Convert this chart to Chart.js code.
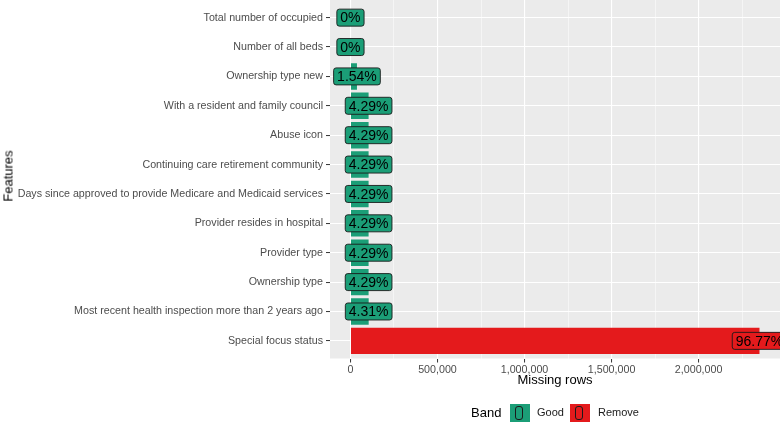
<!DOCTYPE html>
<html>
<head>
<meta charset="utf-8">
<script src="https://cdn.jsdelivr.net/npm/chart.js@4"></script>
<style>
  html, body { margin:0; padding:0; background:#ffffff; }
  #wrap { position:relative; width:780px; height:423px; overflow:hidden; font-family:"Liberation Sans", Arial, sans-serif; }
  #c { position:absolute; left:0; top:0; }
  .t { position:absolute; white-space:nowrap; color:#000; }
  .key { position:absolute; width:20px; height:18px; box-sizing:border-box; }
  .key div { position:absolute; left:5px; top:2px; width:8px; height:14px; box-sizing:border-box; border:1px solid #1a1a1a; border-radius:3px; }
</style>
</head>
<body>
<div id="wrap">
  <canvas id="c" width="780" height="423"></canvas>
  <div class="t" style="left:555px; top:372px; font-size:13px; transform:translateX(-50%);">Missing rows</div>
  <div class="t" style="left:8px; top:176px; font-size:13px; transform:translate(-50%,-50%) rotate(-90deg);">Features</div>
  <div class="t" style="left:471px; top:405px; font-size:13px;">Band</div>
  <div class="key" style="left:510px; top:404px; background:#1b9e77;"><div></div></div>
  <div class="t" style="left:537px; top:406px; font-size:11px; color:#1a1a1a;">Good</div>
  <div class="key" style="left:570px; top:404px; background:#e41a1c;"><div></div></div>
  <div class="t" style="left:598px; top:406px; font-size:11px; color:#1a1a1a;">Remove</div>
</div>
<script>
const categories = [
  "Total number of occupied",
  "Number of all beds",
  "Ownership type new",
  "With a resident and family council",
  "Abuse icon",
  "Continuing care retirement community",
  "Days since approved to provide Medicare and Medicaid services",
  "Provider resides in hospital",
  "Provider type",
  "Ownership type",
  "Most recent health inspection more than 2 years ago",
  "Special focus status"
];
const missingRows = [0, 0, 37400, 104200, 104200, 104200, 104200, 104200, 104200, 104200, 104700, 2349700];
const pctLabels = ["0%", "0%", "1.54%", "4.29%", "4.29%", "4.29%", "4.29%", "4.29%", "4.29%", "4.29%", "4.31%", "96.77%"];
const bands = ["Good", "Good", "Good", "Good", "Good", "Good", "Good", "Good", "Good", "Good", "Good", "Remove"];
const xTicks = [0, 250000, 500000, 750000, 1000000, 1250000, 1500000, 1750000, 2000000, 2250000];
const majorStep = 500000;

const bandColors = { "Good": "#1b9e77", "Remove": "#e41a1c" };
const barColors = bands.map(b => bandColors[b]);

const panelBg = {
  id: 'panelBg',
  beforeDraw(chart) {
    const a = chart.chartArea, ctx = chart.ctx;
    ctx.save();
    ctx.fillStyle = '#ebebeb';
    ctx.fillRect(a.left, a.top, a.right - a.left, a.bottom - a.top);
    ctx.restore();
  }
};

function roundRect(ctx, x, y, w, h, r) {
  ctx.beginPath();
  ctx.moveTo(x + r, y);
  ctx.lineTo(x + w - r, y);
  ctx.arcTo(x + w, y, x + w, y + r, r);
  ctx.lineTo(x + w, y + h - r);
  ctx.arcTo(x + w, y + h, x + w - r, y + h, r);
  ctx.lineTo(x + r, y + h);
  ctx.arcTo(x, y + h, x, y + h - r, r);
  ctx.lineTo(x, y + r);
  ctx.arcTo(x, y, x + r, y, r);
  ctx.closePath();
}

const labelPlugin = {
  id: 'labelPlugin',
  afterDatasetsDraw(chart) {
    const ctx = chart.ctx;
    const meta = chart.getDatasetMeta(0);
    ctx.save();
    ctx.font = '14px "Liberation Sans", Arial, sans-serif';
    ctx.textAlign = 'center';
    ctx.textBaseline = 'middle';
    meta.data.forEach((el, i) => {
      const txt = pctLabels[i];
      const w = ctx.measureText(txt).width + 7;
      const h = 17;
      const x = el.x, y = el.y;
      roundRect(ctx, x - w / 2, y - h / 2, w, h, 2.5);
      ctx.fillStyle = barColors[i];
      ctx.fill();
      ctx.lineWidth = 0.9;
      ctx.strokeStyle = '#1a1a1a';
      ctx.stroke();
      ctx.fillStyle = '#000';
      ctx.fillText(txt, x, y + 1);
    });
    ctx.restore();
  }
};

new Chart(document.getElementById('c'), {
  type: 'bar',
  data: {
    datasets: [{
      data: missingRows.map((v, i) => ({ x: v, y: i })),
      backgroundColor: barColors,
      borderWidth: 0,
      barPercentage: 0.9,
      categoryPercentage: 1.0
    }]
  },
  options: {
    indexAxis: 'y',
    responsive: false,
    animation: false,
    events: [],
    layout: { padding: 0 },
    plugins: { legend: { display: false }, tooltip: { enabled: false } },
    scales: {
      x: {
        type: 'linear',
        min: -117500,
        max: 2467500,
        afterBuildTicks: s => { s.ticks = xTicks.map(v => ({ value: v })); },
        afterFit: s => { s.height = 64.5; s.paddingLeft = 0; s.paddingRight = 0; },
        border: { display: false },
        grid: {
          color: '#ffffff',
          lineWidth: c => (c.tick && c.tick.value % majorStep === 0) ? 1.1 : 0.5,
          drawTicks: true,
          tickLength: 4,
          tickWidth: 1,
          tickColor: c => (c.tick && c.tick.value % majorStep === 0) ? '#333333' : 'rgba(0,0,0,0)'
        },
        ticks: {
          autoSkip: false,
          maxRotation: 0,
          padding: 1,
          color: '#4d4d4d',
          font: { family: '"Liberation Sans", Arial, sans-serif', size: 10.7 },
          callback: v => (v % majorStep === 0) ? v.toLocaleString('en-US') : ''
        }
      },
      y: {
        type: 'linear',
        reverse: true,
        offset: false,
        min: -0.6,
        max: 11.6,
        afterBuildTicks: s => { s.ticks = categories.map((c, i) => ({ value: i })); },
        afterFit: s => { s.width = 330; s.paddingTop = 0; s.paddingBottom = 0; },
        border: { display: false },
        grid: {
          offset: false,
          color: '#ffffff',
          lineWidth: 1.1,
          drawTicks: true,
          tickLength: 4,
          tickWidth: 1,
          tickColor: '#333333'
        },
        ticks: {
          autoSkip: false,
          padding: 3,
          color: '#4d4d4d',
          font: { family: '"Liberation Sans", Arial, sans-serif', size: 10.7 },
          callback: v => categories[v]
        }
      }
    }
  },
  plugins: [panelBg, labelPlugin]
});
</script>
</body>
</html>
